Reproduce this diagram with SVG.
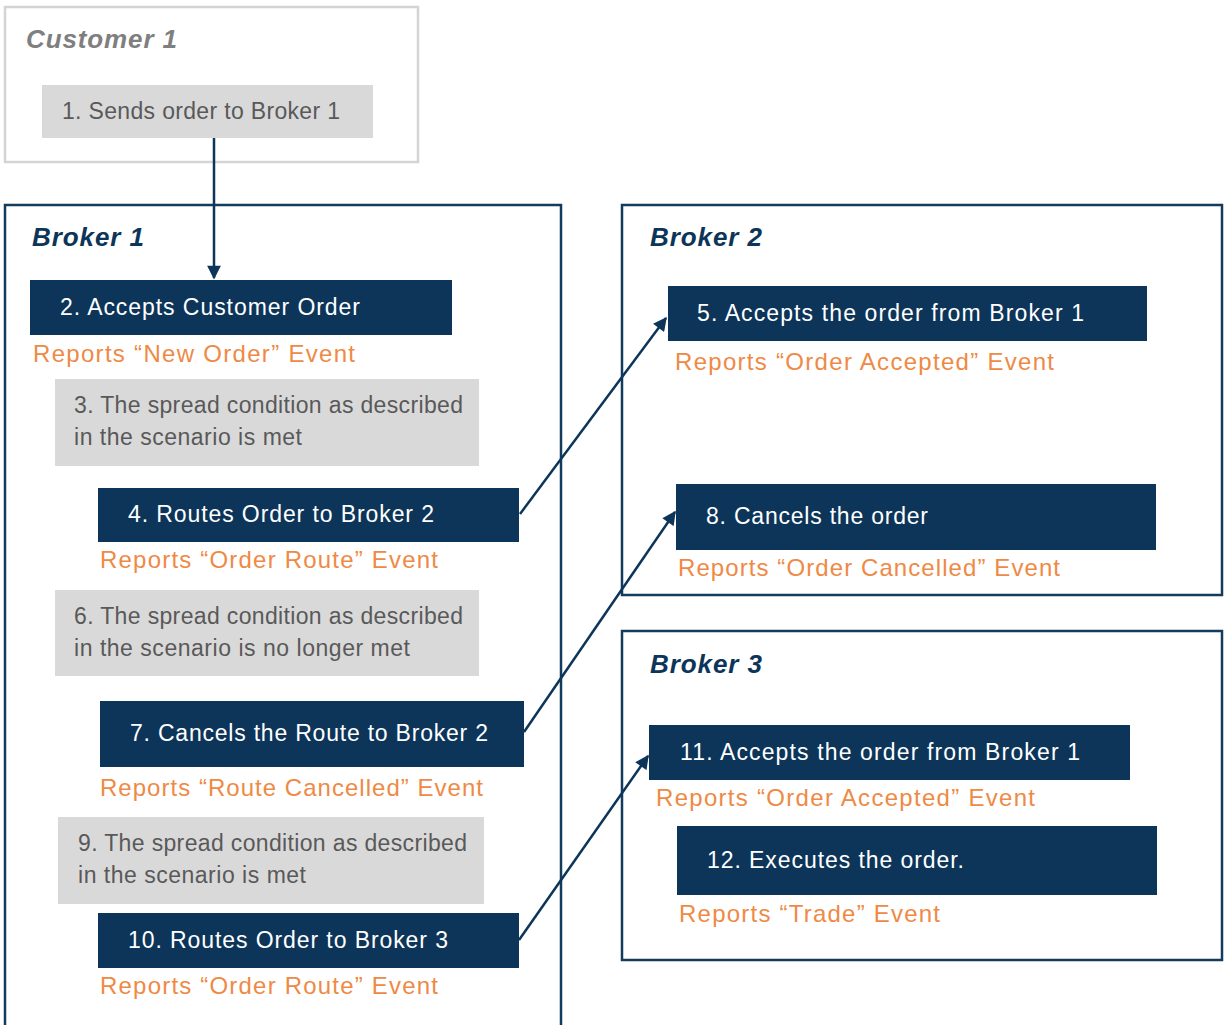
<svg xmlns="http://www.w3.org/2000/svg" width="1225" height="1025" viewBox="0 0 1225 1025">
<style>
.frame{fill:#ffffff;stroke:#123b5e;stroke-width:2.5}
.cframe{fill:#ffffff;stroke:#d4d4d4;stroke-width:2.5}
.navy{fill:#0c3559}
.gray{fill:#d9d9d9}
.t{font-family:"Liberation Sans",Arial,sans-serif;font-size:23px}
.w{fill:#ffffff}
.g{fill:#595959}
.o{fill:#ee8a45;font-size:24px}
.title{font-family:"Liberation Sans",Arial,sans-serif;font-size:26px;font-weight:bold;font-style:italic;fill:#0c3559}
.ctitle{fill:#7f7f7f}
.conn{stroke:#0c3559;stroke-width:2.5;fill:none;marker-end:url(#ah)}
</style>
<defs>
<marker id="ah" viewBox="0 0 10 10" refX="9" refY="5" markerWidth="6" markerHeight="5.5" orient="auto" markerUnits="strokeWidth">
<path d="M0,0 L10,5 L0,10 z" fill="#0c3559"/>
</marker>
</defs>
<rect width="1225" height="1025" fill="#ffffff"/>

<g id="customer1">
<rect class="cframe" x="5" y="7" width="413" height="155"/>
<text class="title ctitle" x="26" y="48" textLength="151">Customer 1</text>
</g>
<g id="step1">
<rect class="gray" x="42" y="85" width="331" height="53"/>
<text class="t g" x="62" y="119" textLength="278">1. Sends order to Broker 1</text>
</g>

<g id="broker1">
<rect class="frame" x="5" y="205" width="556" height="840"/>
<text class="title" x="32" y="246" textLength="112">Broker 1</text>
</g>
<g id="broker2">
<rect class="frame" x="622" y="205" width="600" height="390"/>
<text class="title" x="650" y="246" textLength="112">Broker 2</text>
</g>
<g id="broker3">
<rect class="frame" x="622" y="631" width="600" height="329"/>
<text class="title" x="650" y="673" textLength="112">Broker 3</text>
</g>

<g id="step2">
<rect class="navy" x="30" y="280" width="422" height="55"/>
<text class="t w" x="60" y="315" textLength="300">2. Accepts Customer Order</text>
<text class="t o" x="33" y="362" textLength="322">Reports “New Order” Event</text>
</g>
<g id="step3">
<rect class="gray" x="55" y="379" width="424" height="87"/>
<text class="t g" x="74" y="413" textLength="389">3. The spread condition as described</text>
<text class="t g" x="74" y="445" textLength="228">in the scenario is met</text>
</g>
<g id="step4">
<rect class="navy" x="98" y="488" width="421" height="54"/>
<text class="t w" x="128" y="522" textLength="306">4. Routes Order to Broker 2</text>
<text class="t o" x="100" y="568" textLength="338">Reports “Order Route” Event</text>
</g>
<g id="step6">
<rect class="gray" x="55" y="590" width="424" height="86"/>
<text class="t g" x="74" y="624" textLength="389">6. The spread condition as described</text>
<text class="t g" x="74" y="656" textLength="336">in the scenario is no longer met</text>
</g>
<g id="step7">
<rect class="navy" x="100" y="701" width="424" height="66"/>
<text class="t w" x="130" y="741" textLength="358">7. Cancels the Route to Broker 2</text>
<text class="t o" x="100" y="796" textLength="383">Reports “Route Cancelled” Event</text>
</g>
<g id="step9">
<rect class="gray" x="58" y="817" width="426" height="87"/>
<text class="t g" x="78" y="851" textLength="389">9. The spread condition as described</text>
<text class="t g" x="78" y="883" textLength="228">in the scenario is met</text>
</g>
<g id="step10">
<rect class="navy" x="98" y="913" width="421" height="55"/>
<text class="t w" x="128" y="948" textLength="320">10. Routes Order to Broker 3</text>
<text class="t o" x="100" y="994" textLength="338">Reports “Order Route” Event</text>
</g>

<g id="step5">
<rect class="navy" x="668" y="286" width="479" height="55"/>
<text class="t w" x="697" y="321" textLength="387">5. Accepts the order from Broker 1</text>
<text class="t o" x="675" y="370" textLength="379">Reports “Order Accepted” Event</text>
</g>
<g id="step8">
<rect class="navy" x="676" y="484" width="480" height="66"/>
<text class="t w" x="706" y="524" textLength="222">8. Cancels the order</text>
<text class="t o" x="678" y="576" textLength="382">Reports “Order Cancelled” Event</text>
</g>
<g id="step11">
<rect class="navy" x="649" y="725" width="481" height="55"/>
<text class="t w" x="680" y="760" textLength="400">11. Accepts the order from Broker 1</text>
<text class="t o" x="656" y="806" textLength="379">Reports “Order Accepted” Event</text>
</g>
<g id="step12">
<rect class="navy" x="677" y="826" width="480" height="69"/>
<text class="t w" x="707" y="868" textLength="257">12. Executes the order.</text>
<text class="t o" x="679" y="922" textLength="261">Reports “Trade” Event</text>
</g>

<g id="connectors">
<line class="conn" x1="214" y1="138" x2="214" y2="278"/>
<line class="conn" x1="520" y1="514" x2="666" y2="318"/>
<line class="conn" x1="524" y1="732" x2="675" y2="512"/>
<line class="conn" x1="519" y1="940" x2="648" y2="756"/>
</g>
</svg>
